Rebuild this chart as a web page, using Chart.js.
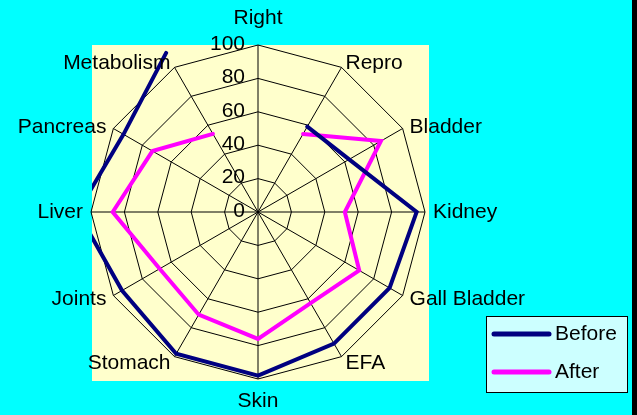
<!DOCTYPE html>
<html>
<head>
<meta charset="utf-8">
<title>Before / After radar</title>
<script src="https://cdn.jsdelivr.net/npm/chart.js@4.4.1/dist/chart.umd.min.js"></script>
<style>
  html, body { margin: 0; padding: 0; background: #000; }
  #wrap { position: relative; width: 632px; height: 415px; background: #00ffff; }
</style>
</head>
<body>
<div id="wrap"><canvas id="radarChart" width="632" height="415"></canvas></div>
<script>
// ── DATA ───────────────────────────────────────────────────────────────
const CATEGORIES = ['Right', 'Repro', 'Bladder', 'Kidney', 'Gall Bladder', 'EFA',
                    'Skin', 'Stomach', 'Joints', 'Liver', 'Pancreas', 'Metabolism'];
const BEFORE = [null, 59, 63, 95, 91, 91, 98, 98, 94, 108, 93, 110];
const AFTER  = [null, 54, 85, 52, 70, 63, 76, 71, 68, 87, 73, 54];
const TICKS  = [0, 20, 40, 60, 80, 100];
const SERIES = ['Before', 'After'];
const COLORS = ['#000080', '#ff00ff'];

const FONT = '21px "Liberation Sans", Arial, sans-serif';

// ── PLOT AREA (pale yellow square behind the web) ──────────────────────
const plotArea = {
  id: 'plotArea',
  beforeDraw(chart) {
    const sc = chart.scales.r;
    const R = sc.drawingArea;
    const ctx = chart.ctx;
    ctx.save();
    ctx.fillStyle = '#ffffcc';
    ctx.fillRect(sc.xCenter - R + 1, sc.yCenter - R, 2 * R + 3, 2 * R + 2);
    ctx.restore();
  }
};

// ── CATEGORY + TICK LABELS (Excel style placement) ─────────────────────
const webLabels = {
  id: 'webLabels',
  afterDraw(chart) {
    const sc = chart.scales.r;
    const R = sc.drawingArea;
    const ctx = chart.ctx;
    ctx.save();
    ctx.font = FONT;
    ctx.fillStyle = '#000';
    ctx.textBaseline = 'middle';

    CATEGORIES.forEach((label, i) => {
      const a = sc.getIndexAngle(i);
      const s = Math.sin(a), c = Math.cos(a);
      const p = sc.getPointPosition(i, R + 8);
      let y = p.y;
      if (Math.abs(s) < 0.01) {
        ctx.textAlign = 'center';
        y += c > 0 ? -19 : 14;
      } else {
        ctx.textAlign = s > 0 ? 'left' : 'right';
        if (c > 0.01) y += 3;   // upper side labels sit a little lower
      }
      ctx.fillText(label, p.x, y);
    });

    ctx.textAlign = 'right';
    TICKS.forEach(v => {
      const y = sc.yCenter - sc.getDistanceFromCenterForValue(v);
      ctx.fillText(String(v), sc.xCenter - 13, y - 1);
    });
    ctx.restore();
  }
};

// ── LEGEND BOX ─────────────────────────────────────────────────────────
const boxLegend = {
  id: 'boxLegend',
  afterDraw(chart) {
    const ctx = chart.ctx;
    ctx.save();
    ctx.fillStyle = '#ccffff';
    ctx.fillRect(486, 316, 141, 76);
    ctx.strokeStyle = '#000';
    ctx.lineWidth = 1;
    ctx.strokeRect(486.5, 316.5, 141, 76);

    ctx.font = FONT;
    ctx.textAlign = 'left';
    ctx.textBaseline = 'middle';
    chart.data.datasets.forEach((ds, i) => {
      const y = 334 + i * 38;
      ctx.strokeStyle = ds.borderColor;
      ctx.lineWidth = 5;
      ctx.lineCap = 'round';
      ctx.beginPath();
      ctx.moveTo(494, y);
      ctx.lineTo(549, y);
      ctx.stroke();
      ctx.fillStyle = '#000';
      ctx.fillText(ds.label, 555, y);
    });
    ctx.restore();
  }
};

// ── CHART ──────────────────────────────────────────────────────────────
new Chart(document.getElementById('radarChart'), {
  type: 'radar',
  data: {
    labels: CATEGORIES,
    datasets: [BEFORE, AFTER].map((values, i) => ({
      label: SERIES[i],
      data: values,
      borderColor: COLORS[i],
      backgroundColor: COLORS[i],
      borderWidth: 4,
      borderJoinStyle: 'miter',
      borderCapStyle: 'round',
      fill: false,
      spanGaps: false,
      pointRadius: 0,
      pointHoverRadius: 0,
      // keep the lines inside the yellow plot area
      clip: { left: -1, top: 0, right: 3, bottom: 1 }
    }))
  },
  options: {
    responsive: false,
    animation: false,
    layout: { padding: { left: 91, top: 45, right: 206, bottom: 35 } },
    plugins: {
      legend: { display: false },
      tooltip: { enabled: false }
    },
    elements: { line: { tension: 0 } },
    scales: {
      r: {
        min: 0,
        max: 100,
        ticks: { display: false, stepSize: 20 },
        pointLabels: { display: false },
        grid: { color: '#000', lineWidth: 1 },
        angleLines: { color: '#000', lineWidth: 1 }
      }
    }
  },
  plugins: [plotArea, webLabels, boxLegend]
});
</script>
</body>
</html>
